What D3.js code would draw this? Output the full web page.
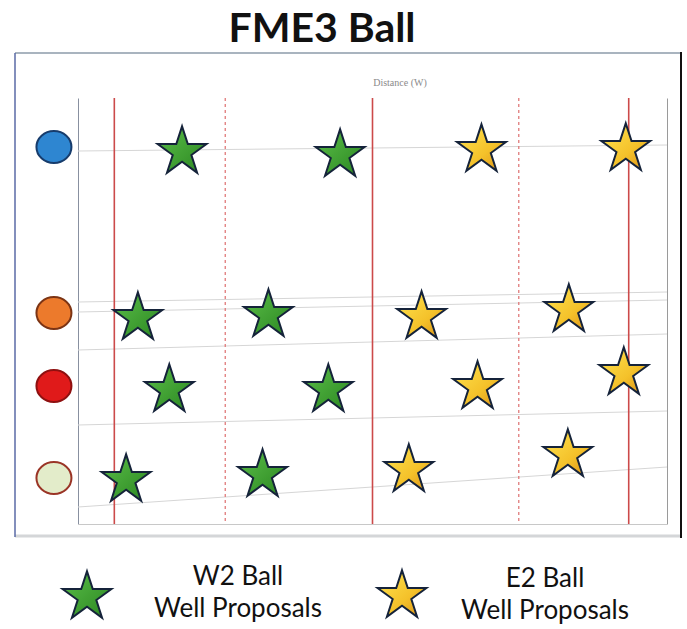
<!DOCTYPE html>
<html>
<head>
<meta charset="utf-8">
<script src="https://cdn.jsdelivr.net/npm/d3@7"></script>
<style>
  body { margin: 0; background: #fff; }
  text { font-family: Lato, "Open Sans", sans-serif; }
</style>
</head>
<body>
<div id="chart"></div>
<script>
// horizons (left markers)
var horizonNames = ["Blue", "Orange", "Red", "Pale"]
var horizonDepth = [49, 215, 288, 380]
var horizonFill = ["#2e86d1", "#ec7a2c", "#e01a1a", "#e3ecca"]
var horizonStroke = ["#173c6c", "#7c3414", "#8e1010", "#9a3426"]

// well proposals (distance, depth)
var w2Dist = [106, 267, 61, 194, 93, 255, 49, 188]
var w2Depth = [54, 57, 220, 217, 292, 292, 382, 377]
var e2Dist = [411, 558, 350, 500, 407, 556, 337, 499]
var e2Depth = [52, 51, 219, 212, 289, 275, 372, 357]

// vertical section lines
var sectionDist = [37, 150, 300, 449, 561]
var sectionDashed = [false, true, false, true, false]

// faint correlation lines, depth at left and right edge
var corrLeft = [53, 204, 214, 252, 327, 409]
var corrRight = [47, 194, 202, 236, 313, 369]

var legendLabels = [["W2 Ball", "Well Proposals"], ["E2 Ball", "Well Proposals"]]

function draw() {
  var W = 687, H = 629
  var svg = d3.select("#chart").append("svg")
    .attr("width", W).attr("height", H)

  var defs = svg.append("defs")
  var g1 = defs.append("linearGradient").attr("id", "gGreen")
    .attr("x1", 0).attr("y1", 0).attr("x2", 1).attr("y2", 1)
  g1.append("stop").attr("offset", "0%").attr("stop-color", "#5cbf4a")
  g1.append("stop").attr("offset", "100%").attr("stop-color", "#2a8620")
  var g2 = defs.append("linearGradient").attr("id", "gYellow")
    .attr("x1", 0).attr("y1", 0).attr("x2", 1).attr("y2", 1)
  g2.append("stop").attr("offset", "0%").attr("stop-color", "#ffe552")
  g2.append("stop").attr("offset", "60%").attr("stop-color", "#f4c12a")
  g2.append("stop").attr("offset", "100%").attr("stop-color", "#d98e16")

  // title
  svg.append("text")
    .attr("x", 322).attr("y", 42)
    .attr("text-anchor", "middle")
    .attr("font-size", 41).attr("font-weight", "bold")
    .attr("fill", "#111")
    .text("FME3 Ball")

  // frame
  var fr = {x0: 15, y0: 53, x1: 681, y1: 536}
  svg.append("line").attr("x1", fr.x0).attr("x2", fr.x1).attr("y1", fr.y0).attr("y2", fr.y0)
    .attr("stroke", "#a9b4bf").attr("stroke-width", 2)
  svg.append("line").attr("x1", fr.x0).attr("x2", fr.x1).attr("y1", fr.y1).attr("y2", fr.y1)
    .attr("stroke", "#d4d6d8").attr("stroke-width", 3)
  svg.append("line").attr("x1", fr.x0).attr("x2", fr.x0).attr("y1", fr.y0).attr("y2", fr.y1 + 1)
    .attr("stroke", "#5a6aa6").attr("stroke-width", 1.5)
  svg.append("line").attr("x1", fr.x1).attr("x2", fr.x1).attr("y1", fr.y0 - 1).attr("y2", fr.y1 + 2)
    .attr("stroke", "#111").attr("stroke-width", 2)

  var x = d3.scaleLinear().domain([0, 600]).range([78, 667])
  var y = d3.scaleLinear().domain([0, 426]).range([98, 524])

  svg.append("text")
    .attr("x", 400).attr("y", 86)
    .attr("text-anchor", "middle")
    .attr("font-size", 10)
    .style("font-family", "'Liberation Serif', serif")
    .attr("fill", "#8a8a8a")
    .text("Distance (W)")

  // axes as plain frame lines
  svg.append("g").attr("transform", "translate(" + x(0) + ",0)")
    .call(d3.axisLeft(y).tickValues([]).tickSizeOuter(0))
    .select(".domain").attr("stroke", "#8890a0")
  svg.append("g").attr("transform", "translate(" + x(600) + ",0)")
    .call(d3.axisRight(y).tickValues([]).tickSizeOuter(0))
    .select(".domain").attr("stroke", "#9a9a9a")
  svg.append("g").attr("transform", "translate(0," + y(426) + ")")
    .call(d3.axisBottom(x).tickValues([]).tickSizeOuter(0))
    .select(".domain").attr("stroke", "#c8c8c8")

  // correlation lines
  svg.selectAll(".corr")
    .data(corrLeft)
    .join("line")
    .attr("class", "corr")
    .attr("x1", x(0)).attr("x2", x(600))
    .attr("y1", d => y(d))
    .attr("y2", (d, i) => y(corrRight[i]))
    .attr("stroke", "#d6d6d6").attr("stroke-width", 1)

  // section lines
  svg.selectAll(".sect")
    .data(sectionDist)
    .join("line")
    .attr("class", "sect")
    .attr("x1", d => x(d)).attr("x2", d => x(d))
    .attr("y1", y(0)).attr("y2", y(426))
    .attr("stroke", (d, i) => sectionDashed[i] ? "#e07a7a" : "#cc4a4a")
    .attr("stroke-width", (d, i) => sectionDashed[i] ? 1.3 : 1.6)
    .attr("stroke-dasharray", (d, i) => sectionDashed[i] ? "3,3" : null)

  // horizon markers
  svg.selectAll(".hz")
    .data(horizonDepth)
    .join("ellipse")
    .attr("class", "hz")
    .attr("cx", x(-24.5)).attr("cy", d => y(d))
    .attr("rx", 17.5).attr("ry", 16)
    .attr("fill", (d, i) => horizonFill[i])
    .attr("stroke", (d, i) => horizonStroke[i])
    .attr("stroke-width", 2)

  var star = d3.symbol(d3.symbolStar, 740)

  svg.selectAll(".w2")
    .data(w2Dist)
    .join("path")
    .attr("class", "w2")
    .attr("d", star)
    .attr("transform", (d, i) => "translate(" + x(d) + "," + y(w2Depth[i]) + ")")
    .attr("fill", "url(#gGreen)")
    .attr("stroke", "#15233a").attr("stroke-width", 2).attr("stroke-linejoin", "miter")

  svg.selectAll(".e2")
    .data(e2Dist)
    .join("path")
    .attr("class", "e2")
    .attr("d", star)
    .attr("transform", (d, i) => "translate(" + x(d) + "," + y(e2Depth[i]) + ")")
    .attr("fill", "url(#gYellow)")
    .attr("stroke", "#15233a").attr("stroke-width", 2).attr("stroke-linejoin", "miter")

  // legend
  var legX = [87, 402], textX = [238, 545]
  var legFill = ["url(#gGreen)", "url(#gYellow)"]
  legendLabels.forEach(function(lab, i) {
    svg.append("path")
      .attr("d", star)
      .attr("transform", "translate(" + legX[i] + "," + (597 + i * -1) + ")")
      .attr("fill", legFill[i])
      .attr("stroke", "#15233a").attr("stroke-width", 2)
    svg.append("text")
      .attr("x", textX[i]).attr("y", 585 + i * 2)
      .attr("text-anchor", "middle")
      .attr("font-size", 26).attr("fill", "#111")
      .text(lab[0])
    svg.append("text")
      .attr("x", textX[i]).attr("y", 617 + i * 2)
      .attr("text-anchor", "middle")
      .attr("font-size", 26).attr("fill", "#111")
      .text(lab[1])
  })
}

draw();
</script>
</body>
</html>
